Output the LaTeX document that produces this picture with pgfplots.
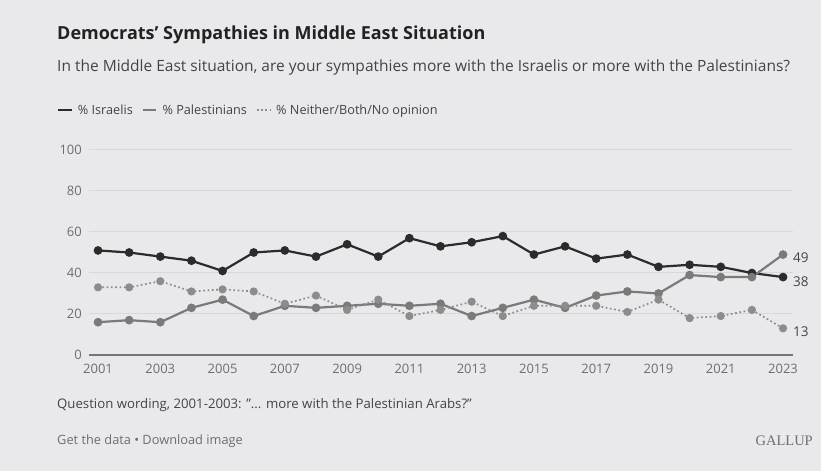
\documentclass[border=0pt]{standalone}
\usepackage{pgfplots}
\pgfplotsset{compat=1.18}
\usepackage{fontspec}
\setmainfont{Open Sans}
\newfontfamily\gallupfont{Liberation Serif}
\definecolor{bg}{HTML}{E9E9EB}
\definecolor{titlec}{HTML}{222222}
\definecolor{subc}{HTML}{444444}
\definecolor{tickc}{HTML}{6E6E6E}
\definecolor{gridc}{HTML}{D8D8DA}
\definecolor{basec}{HTML}{767676}
\definecolor{isr}{HTML}{2B2B2B}
\definecolor{pal}{HTML}{7A7A7A}
\definecolor{nei}{HTML}{8C8C8C}

\pgfplotstableread{
year isr pal nei
2001 51 16 33
2002 50 17 33
2003 48 16 36
2004 46 23 31
2005 41 27 32
2006 50 19 31
2007 51 24 25
2008 48 23 29
2009 54 24 22
2010 48 25 27
2011 57 24 19
2012 53 25 22
2013 55 19 26
2014 58 23 19
2015 49 27 24
2016 53 23 24
2017 47 29 24
2018 49 31 21
2019 43 30 27
2020 44 39 18
2021 43 38 19
2022 40 38 22
2023 38 49 13
}\datatable

\begin{document}
\begin{tikzpicture}[x=1pt,y=1pt]
\fill[bg] (0,0) rectangle (821,471);
\useasboundingbox (0,0) rectangle (821,471);
\node[anchor=west, inner sep=0pt, text=titlec, font=\bfseries\fontsize{18}{21}\selectfont] at (57,436) {Democrats\symbol{"27} Sympathies in Middle East Situation};
\node[anchor=west, inner sep=0pt, text=subc, font=\fontsize{15.5}{18}\selectfont] at (57,404) {In the Middle East situation, are your sympathies more with the Israelis or more with the Palestinians?};
\node[anchor=west, inner sep=0pt, text=subc, font=\fontsize{13.2}{16}\selectfont] at (57,66) {Question wording, 2001-2003: \symbol{"22}... more with the Palestinian Arabs?\symbol{"22}};
\node[anchor=west, inner sep=0pt, text=tickc, font=\fontsize{12.8}{15}\selectfont] at (57,30) {Get the data \textbullet\ Download image};
\node[anchor=east, inner sep=0pt, text=tickc, font=\gallupfont\fontsize{14.5}{17}\selectfont] at (813,30) {GALLUP};
\begin{axis}[
  at={(89pt,116pt)}, anchor=south west,
  scale only axis, width=704pt, height=205pt,
  xmin=2000.71, xmax=2023.32, ymin=0, ymax=100,
  clip=false,
  axis line style={draw=none},
  major tick length=0pt,
  ytick={20,40,60,80,100},
  extra y ticks={0},
  extra y tick labels={0},
  extra y tick style={grid style={draw=basec, line width=1.3pt}},
  ymajorgrids, grid style={draw=gridc, line width=1pt},
  xtick={2001,2003,...,2023},
  /pgf/number format/assume math mode=true,
  /pgf/number format/1000 sep={},
  ticklabel style={font=\fontsize{13}{15}\selectfont, text=tickc, inner sep=0pt},
  yticklabel style={anchor=east, xshift=-7pt},
  xticklabel style={anchor=north, yshift=-9pt},
  legend style={at={(axis description cs:-0.0455,1.195)}, anchor=west, draw=none, fill=none, inner sep=0pt,
    font=\fontsize{12.7}{15}\selectfont, text=subc, nodes={inner sep=0pt},
    /tikz/every odd column/.append style={column sep=5pt},
    /tikz/every even column/.append style={column sep=9pt}},
  legend columns=-1,
  legend image code/.code={\draw[#1, mark=none] (0pt,0pt) -- (13.5pt,0pt);},
]
\addplot[isr, line width=2.2pt, mark=*, mark size=3.2pt, mark options={solid, fill=isr, draw=isr}] table[x=year, y=isr] {\datatable};
\addlegendentry{\% Israelis}
\addplot[pal, line width=2.2pt, mark=*, mark size=3.2pt, mark options={solid, fill=pal, draw=pal}] table[x=year, y=pal] {\datatable};
\addlegendentry{\% Palestinians}
\addplot[nei, line width=1.7pt, dash pattern=on 1.7pt off 2.6pt, mark=*, mark size=3.2pt, mark options={solid, fill=nei, draw=nei}] table[x=year, y=nei] {\datatable};
\addlegendentry{\% Neither/Both/No opinion}
\node[anchor=west, inner sep=0pt, text=subc, font=\fontsize{13.5}{15}\selectfont, xshift=10pt, yshift=-3.5pt] at (axis cs:2023,49) {49};
\node[anchor=west, inner sep=0pt, text=subc, font=\fontsize{13.5}{15}\selectfont, xshift=10pt, yshift=-5pt] at (axis cs:2023,38) {38};
\node[anchor=west, inner sep=0pt, text=subc, font=\fontsize{13.5}{15}\selectfont, xshift=10pt, yshift=-3.5pt] at (axis cs:2023,13) {13};
\end{axis}
\end{tikzpicture}
\end{document}
